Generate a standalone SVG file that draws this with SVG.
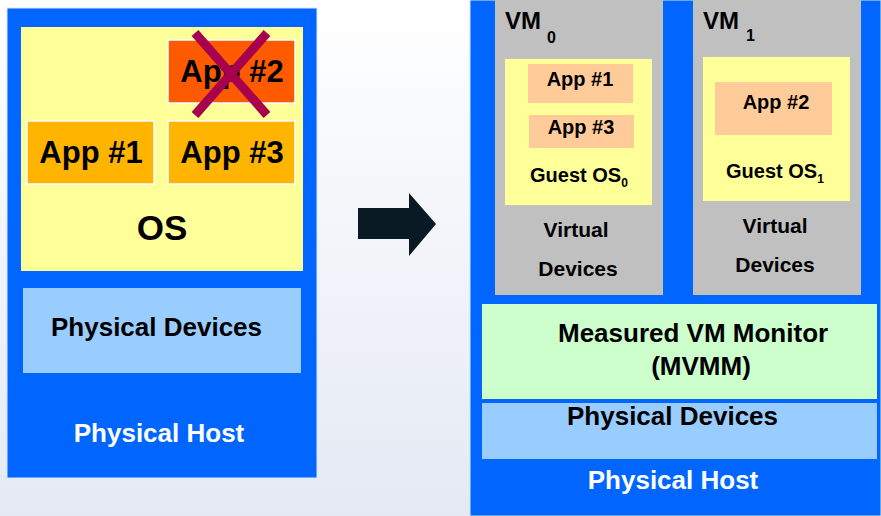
<svg xmlns="http://www.w3.org/2000/svg" width="881" height="516" viewBox="0 0 881 516">
<defs>
<linearGradient id="bg" x1="0" y1="0" x2="0" y2="1">
<stop offset="0" stop-color="#ffffff"/>
<stop offset="1" stop-color="#e4e9f4"/>
</linearGradient>
</defs>
<style>
text{font-family:"Liberation Sans",Arial,sans-serif;font-weight:bold;fill:#000}
.host{fill:#0066ff}
.os{fill:#ffff99}
.dev{fill:#99ccff}
.vm{fill:#c0c0c0}
.gapp{fill:#ffcc99}
.wt{fill:#ffffff}
.mid{text-anchor:middle}
</style>
<rect width="881" height="516" fill="url(#bg)"/>

<g id="left-host">
<rect x="7" y="8" width="310" height="470" class="host" stroke="#dde6ff" stroke-width="1"/>
<text x="159" y="442" font-size="26" class="wt mid">Physical Host</text>
</g>
<g id="left-os">
<rect x="21" y="27" width="282" height="244" class="os"/>
<text x="162" y="240" font-size="35" class="mid">OS</text>
</g>
<g id="left-app2">
<rect x="168" y="40" width="127" height="63" fill="#ff5a00" stroke="#ffffff" stroke-width="1.5"/>
<text x="232" y="82" font-size="31" class="mid">App #2</text>
<path d="M195 33 L267 115 M267 33 L195 115" stroke="#a6004f" stroke-width="9" fill="none"/>
</g>
<g id="left-app1">
<rect x="27" y="121" width="127" height="63" fill="#ffb400" stroke="#ffffff" stroke-width="1.5"/>
<text x="91" y="163" font-size="31" class="mid">App #1</text>
</g>
<g id="left-app3">
<rect x="168" y="121" width="127" height="63" fill="#ffb400" stroke="#ffffff" stroke-width="1.5"/>
<text x="232" y="163" font-size="31" class="mid">App #3</text>
</g>
<g id="left-devices">
<rect x="23" y="288" width="278" height="85" class="dev"/>
<text x="51" y="336" font-size="26">Physical Devices</text>
</g>

<g id="connectors">
<path d="M358 208 L409 208 L409 193 L436 224 L409 256 L409 239 L358 239 Z" fill="#0a1a25"/>
</g>

<g id="right-host">
<rect x="470" y="0" width="411" height="516" class="host" stroke="#dde6ff" stroke-width="1"/>
<text x="673" y="489" font-size="26" class="wt mid">Physical Host</text>
</g>
<g id="vm0">
<rect x="495" y="0" width="168" height="295" class="vm"/>
<text x="505" y="29" font-size="24">VM</text>
<text x="547" y="43" font-size="16">0</text>
<text x="576" y="237" font-size="21" class="mid">Virtual</text>
<text x="578" y="276" font-size="21" class="mid">Devices</text>
</g>
<g id="guest-os0">
<rect x="505" y="59" width="147" height="146" class="os"/>
<text x="530" y="182" font-size="20">Guest OS<tspan font-size="12" dy="5">0</tspan></text>
</g>
<g id="vm0-app1">
<rect x="528" y="64" width="105" height="39" class="gapp"/>
<text x="580" y="86" font-size="20" class="mid">App #1</text>
</g>
<g id="vm0-app3">
<rect x="529" y="115" width="105" height="33" class="gapp"/>
<text x="581" y="134" font-size="20" class="mid">App #3</text>
</g>
<g id="vm1">
<rect x="693" y="0" width="168" height="295" class="vm"/>
<text x="703" y="29" font-size="24">VM</text>
<text x="746" y="41" font-size="16">1</text>
<text x="775" y="233" font-size="21" class="mid">Virtual</text>
<text x="775" y="272" font-size="21" class="mid">Devices</text>
</g>
<g id="guest-os1">
<rect x="703" y="57" width="147" height="144" class="os"/>
<text x="726" y="178" font-size="20">Guest OS<tspan font-size="12" dy="5">1</tspan></text>
</g>
<g id="vm1-app2">
<rect x="715" y="82" width="117" height="53" class="gapp"/>
<text x="776" y="109" font-size="20" class="mid">App #2</text>
</g>
<g id="mvmm">
<rect x="482" y="304" width="395" height="95" fill="#ccffcc"/>
<text x="558" y="342" font-size="26">Measured VM Monitor</text>
<text x="701" y="375" font-size="26" class="mid">(MVMM)</text>
</g>
<g id="right-devices">
<rect x="482" y="403" width="395" height="56" class="dev"/>
<text x="567" y="425" font-size="26">Physical Devices</text>
</g>
</svg>
